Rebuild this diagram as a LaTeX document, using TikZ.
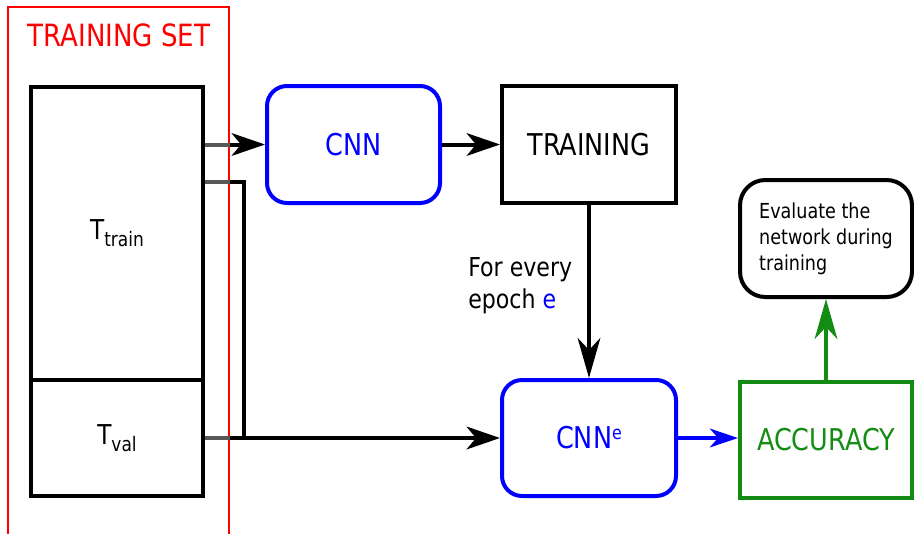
\documentclass[tikz,border=0pt]{standalone}
\usepackage{fontspec}
\setmainfont{DejaVu Sans}[FakeStretch=0.85]
\usetikzlibrary{arrows.meta}

\definecolor{accgreen}{RGB}{20,140,20}
\definecolor{linkgray}{RGB}{88,88,88}

\tikzset{
  box/.style={draw=black, line width=3pt, inner sep=0pt,
    font=\fontsize{22.5}{26}\selectfont},
  roundbox/.style={box, rounded corners=15pt},
  link/.style={line width=3pt},
  headbig/.style={-{Stealth[length=25pt, width=17pt, inset=7pt]}},
  headtall/.style={-{Stealth[length=30pt, width=17pt, inset=9pt]}},
  headsmall/.style={-{Stealth[length=21pt, width=14pt, inset=6pt]}},
}

\begin{document}
\begin{tikzpicture}[x=0.75pt, y=-0.75pt]
  \useasboundingbox (0,0) rectangle (914,533);

  % training set frame and its two parts
  \node[draw=red, line width=1.5pt, minimum width=221*0.75pt,
        minimum height=540*0.75pt, inner sep=0pt] (tset) at (118.5,277) {};
  \node[text=red, font=\fontsize{23}{26}\selectfont] (tsetlabel) at (119,35) {TRAINING SET};
  \node[box, font=\fontsize{20.5}{24}\selectfont, minimum width=172*0.75pt,
        minimum height=293*0.75pt] (ttrain) at (117,233.5)
    {T\raisebox{-5pt}{\fontsize{15}{17}\selectfont train}};
  \node[box, font=\fontsize{20.5}{24}\selectfont, minimum width=172*0.75pt,
        minimum height=116*0.75pt] (tval) at (117,438)
    {T\raisebox{-5pt}{\fontsize{15}{17}\selectfont val}};

  % processing blocks
  \node[roundbox, draw=blue, text=blue, minimum width=173*0.75pt, minimum height=117*0.75pt]
    (cnn) at (353.5,144.5) {CNN};
  \node[box, minimum width=174*0.75pt, minimum height=117*0.75pt]
    (train) at (589,144.5) {TRAINING};
  \node[roundbox, draw=blue, text=blue, minimum width=174*0.75pt, minimum height=116*0.75pt]
    (cnne) at (589,438) {CNN\raisebox{7pt}{\fontsize{14}{16}\selectfont e}};
  \node[box, draw=accgreen, text=accgreen, minimum width=172*0.75pt, minimum height=116*0.75pt]
    (acc) at (826,440) {ACCURACY};
  \node[roundbox, rounded corners=19pt, minimum width=172*0.75pt, minimum height=117*0.75pt,
        align=left, font=\fontsize{15.5}{19.5}\selectfont]
    (eval) at (826,238.5) {Evaluate the\\network during\\training};

  % epoch annotation
  \node[anchor=west, align=left, inner sep=0pt, font=\fontsize{19.5}{24}\selectfont]
    (epoch) at (468,286) {For every\\epoch \textcolor{blue}{e}};

  % connectors
  \coordinate (bend) at (244,182);
  \draw[link, linkgray] (ttrain.east |- cnn.west) -- (tset.east |- cnn.west);
  \draw[link, headbig] (tset.east |- cnn.west) -- (cnn.west);
  \draw[link, linkgray] (ttrain.east |- bend) -- (tset.east |- bend);
  \draw[link] (tset.east |- bend) -- (bend) -- (bend |- tval.east);
  \draw[link, linkgray] (tval.east) -- (tset.east |- tval.east);
  \draw[link, headbig] (tset.east |- tval.east) -- (cnne.west);
  \draw[link, headbig] (cnn.east) -- (train.west);
  \draw[link, headtall] (train.south) -- (cnne.north);
  \draw[link, blue, headsmall] (cnne.east) -- (cnne.east -| acc.west);
  \draw[link, accgreen, headtall] (acc.north) -- (eval.south);
\end{tikzpicture}
\end{document}
